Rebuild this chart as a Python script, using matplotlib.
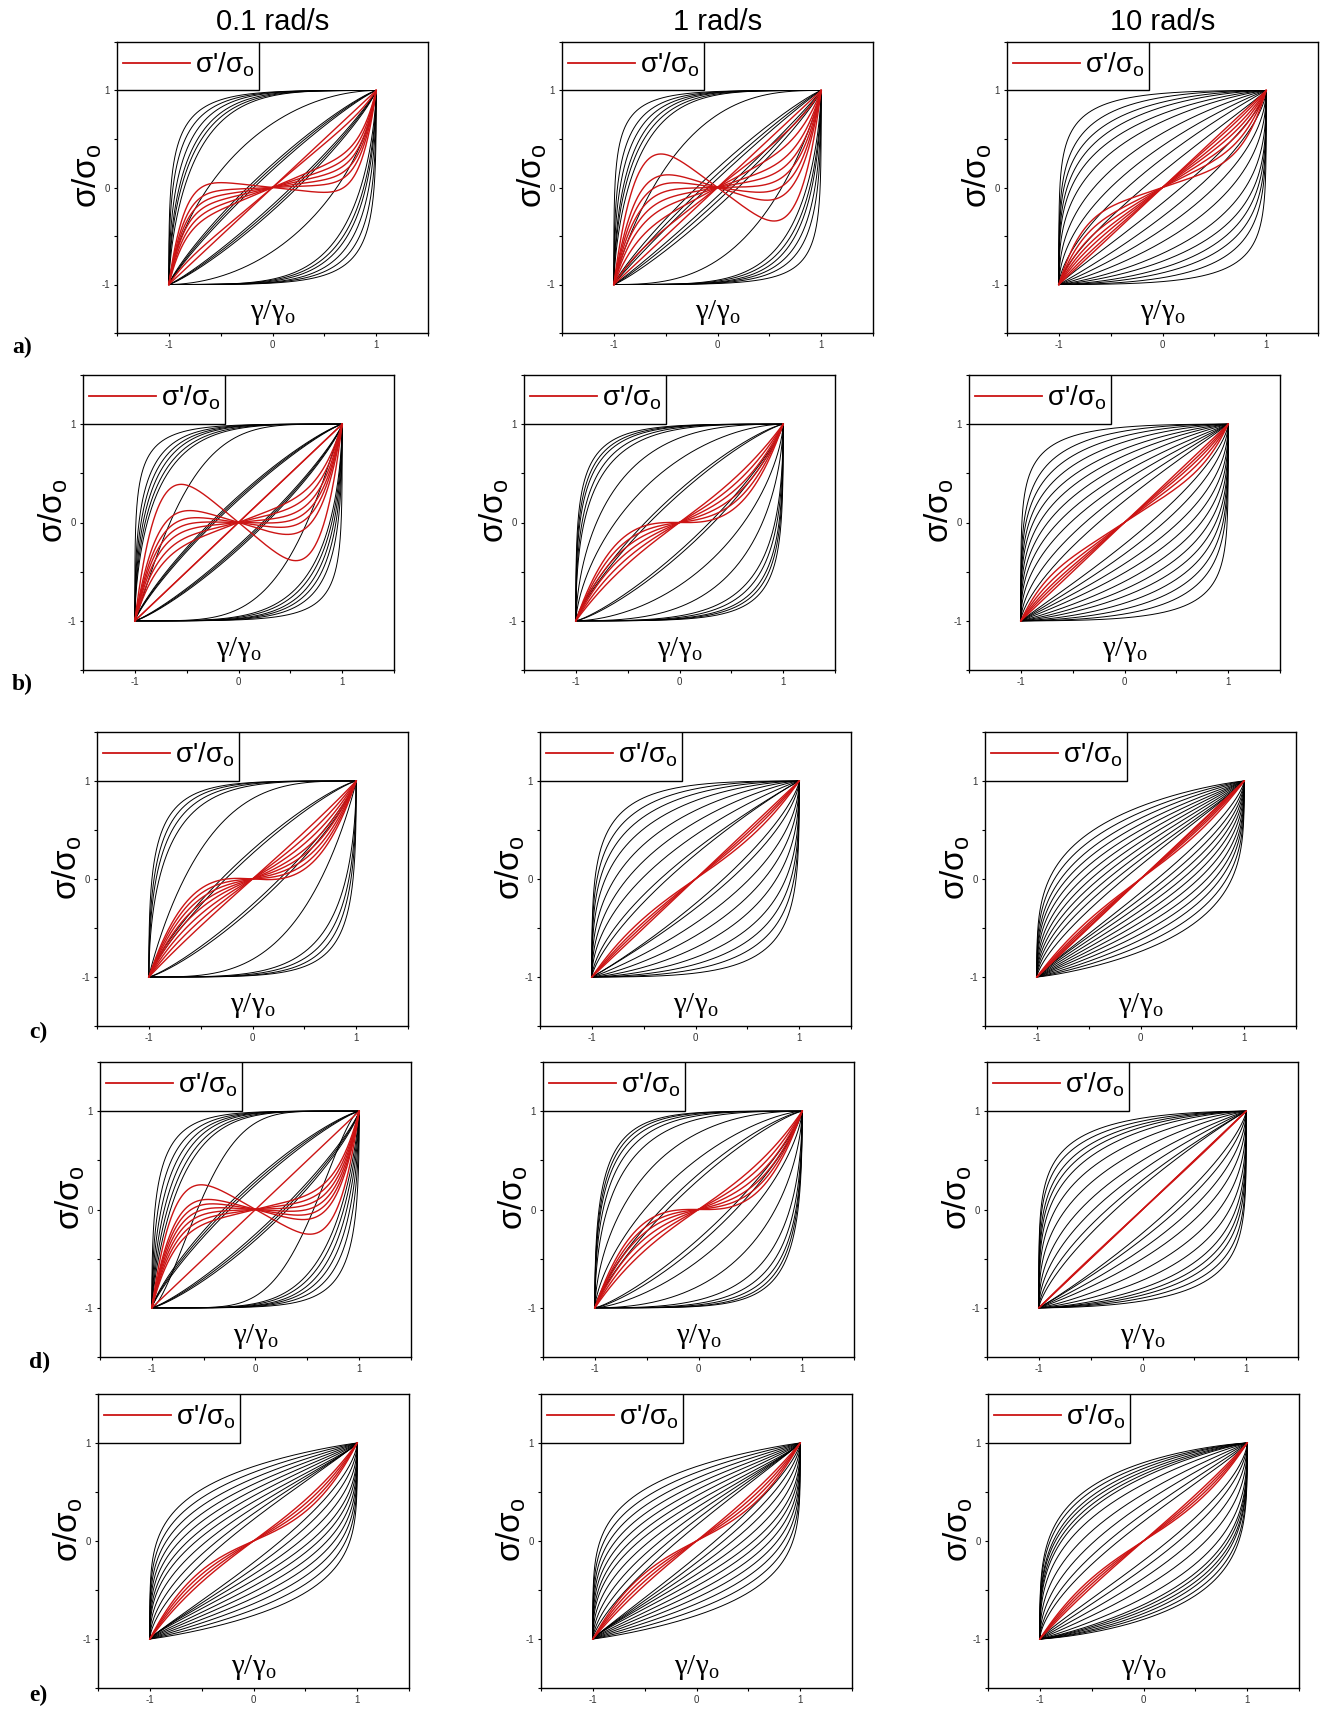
import numpy as np
import matplotlib
matplotlib.use('Agg')
import matplotlib.pyplot as plt
from matplotlib.patches import Rectangle
from matplotlib.lines import Line2D

plt.rcParams['font.family'] = ['Liberation Sans', 'DejaVu Sans']
plt.rcParams['axes.unicode_minus'] = False

rates = ['0.1 rad/s', '1 rad/s', '10 rad/s']
row_tags = ['a)', 'b)', 'c)', 'd)', 'e)']

# black loops (total stress), one entry per loop:
#   top  = sigma/sigma_o of the rising branch at gamma/gamma_o = 0
#   left = gamma/gamma_o where the rising branch crosses sigma = 0
top_a = [[0.985, 0.98, 0.975, 0.965, 0.955, 0.945, 0.66, 0.24, 0.21, 0.18],
         [0.99, 0.985, 0.98, 0.975, 0.965, 0.955, 0.75, 0.2, 0.14, 0.09],
         [0.97, 0.93, 0.88, 0.83, 0.76, 0.68, 0.56, 0.43, 0.3, 0.16]]
left_a = [[-0.98, -0.96, -0.93, -0.9, -0.88, -0.85, -0.62, -0.24, -0.21, -0.18],
          [-0.99, -0.965, -0.94, -0.91, -0.89, -0.86, -0.62, -0.2, -0.14, -0.09],
          [-0.99, -0.97, -0.95, -0.92, -0.88, -0.8, -0.66, -0.5, -0.34, -0.18]]

top_b = [[0.99, 0.985, 0.98, 0.975, 0.965, 0.955, 0.88, 0.27, 0.25, 0.23],
         [0.985, 0.98, 0.975, 0.965, 0.95, 0.86, 0.64, 0.33, 0.29],
         [0.97, 0.93, 0.88, 0.82, 0.75, 0.68, 0.6, 0.51, 0.42, 0.32, 0.22]]
left_b = [[-0.99, -0.96, -0.94, -0.92, -0.9, -0.88, -0.66, -0.27, -0.25, -0.23],
          [-0.98, -0.97, -0.96, -0.94, -0.92, -0.8, -0.62, -0.33, -0.29],
          [-0.99, -0.97, -0.95, -0.92, -0.88, -0.82, -0.74, -0.64, -0.52, -0.38, -0.25]]

top_c = [[0.985, 0.98, 0.97, 0.955, 0.82, 0.3, 0.26],
         [0.96, 0.92, 0.87, 0.8, 0.7, 0.58, 0.45, 0.3, 0.25],
         [0.74, 0.68, 0.62, 0.56, 0.5, 0.44, 0.38, 0.32, 0.26, 0.2, 0.14]]
left_c = [[-0.97, -0.95, -0.93, -0.9, -0.66, -0.3, -0.26],
          [-0.97, -0.95, -0.92, -0.87, -0.78, -0.66, -0.52, -0.34, -0.27],
          [-0.88, -0.83, -0.77, -0.71, -0.64, -0.56, -0.48, -0.4, -0.32, -0.24, -0.16]]

top_d = [[0.99, 0.985, 0.98, 0.975, 0.965, 0.955, 0.88, 0.31, 0.28, 0.25],
         [0.985, 0.98, 0.97, 0.955, 0.92, 0.78, 0.52, 0.36, 0.3],
         [0.93, 0.9, 0.87, 0.84, 0.8, 0.72, 0.62, 0.5, 0.4, 0.3, 0.24]]
left_d = [[-0.97, -0.94, -0.91, -0.88, -0.85, -0.82, -0.56, -0.31, -0.28, -0.25],
          [-0.96, -0.95, -0.94, -0.92, -0.88, -0.74, -0.52, -0.36, -0.3],
          [-0.98, -0.97, -0.95, -0.93, -0.9, -0.84, -0.74, -0.6, -0.47, -0.34, -0.26]]

top_e = [[0.76, 0.7, 0.64, 0.58, 0.52, 0.46, 0.4, 0.34, 0.28, 0.22],
         [0.76, 0.7, 0.64, 0.58, 0.52, 0.46, 0.4, 0.34, 0.28, 0.22, 0.16],
         [0.8, 0.77, 0.74, 0.71, 0.68, 0.65, 0.58, 0.48, 0.38, 0.28, 0.2]]
left_e = [[-0.93, -0.89, -0.84, -0.78, -0.71, -0.63, -0.55, -0.45, -0.35, -0.26],
          [-0.93, -0.89, -0.84, -0.78, -0.71, -0.63, -0.55, -0.45, -0.35, -0.26, -0.18],
          [-0.92, -0.9, -0.87, -0.85, -0.82, -0.79, -0.72, -0.6, -0.47, -0.34, -0.24]]

# red curves (elastic stress sigma'/sigma_o): value read at gamma/gamma_o = -0.5
red_a = [[0.05, -0.03, -0.08, -0.13, -0.18, -0.23, -0.45, -0.5],
         [0.34, 0.13, 0.04, -0.04, -0.12, -0.2, -0.3, -0.42, -0.5],
         [-0.2, -0.28, -0.34, -0.39, -0.43, -0.47, -0.5]]
red_b = [[0.38, 0.12, 0.04, -0.02, -0.08, -0.15, -0.22, -0.5, -0.5],
         [-0.12, -0.18, -0.24, -0.3, -0.36, -0.42],
         [-0.35, -0.4, -0.44, -0.47, -0.5]]
red_c = [[-0.1, -0.15, -0.2, -0.25, -0.3, -0.36, -0.42, -0.48],
         [-0.4, -0.44, -0.47, -0.5],
         [-0.42, -0.45, -0.47, -0.49, -0.5]]
red_d = [[0.25, 0.1, 0.05, 0.0, -0.05, -0.1, -0.15, -0.5],
         [-0.12, -0.17, -0.22, -0.28, -0.34, -0.4],
         [-0.5, -0.49, -0.5]]
red_e = [[-0.3, -0.34, -0.38, -0.42],
         [-0.33, -0.37, -0.41, -0.45],
         [-0.38, -0.41, -0.44, -0.47]]
# odd power of the nonlinear part of each red set
red_pow = [[7, 5, 5], [5, 3, 5], [3, 3, 3], [5, 3, 3], [3, 3, 3]]

tops = [top_a, top_b, top_c, top_d, top_e]
lefts = [left_a, left_b, left_c, left_d, left_e]
reds = [red_a, red_b, red_c, red_d, red_e]

# layout (pixels of the 1323x1709 canvas)
W, H = 1323, 1709
row_top = [42, 375, 732, 1062, 1394]
row_bot = [333, 670, 1026, 1357, 1688]
col_left = [[117, 562, 1007], [83, 524, 969], [97, 540, 985], [100, 543, 987], [98, 541, 988]]
ax_w = 311
tag_xy = [(22, 347), (22, 684), (38, 1032), (40, 1362), (38, 1695)]

RED = '#cc1414'


def branch(top, left):
    # rising branch from (-1,-1) to (1,1) through the two read points
    t = (1 + top) / 2
    u0 = (1 + left) / 2
    a = np.linspace(0.03, 3, 6000)
    b_top = np.log(1 - t) / np.log(1 - 0.5 ** a)
    b_left = np.log(0.5) / np.log(1 - u0 ** a)
    i = np.nanargmin(np.abs(b_top - b_left))
    a, b = a[i], b_top[i]
    u = np.linspace(0, 1, 900) ** 3
    g = 1 - (1 - u ** a) ** b
    return 2 * u - 1, 2 * g - 1


fig = plt.figure(figsize=(W / 100, H / 100), dpi=100)

for r in range(5):
    for c in range(3):
        L = col_left[r][c]
        ax = fig.add_axes([L / W, 1 - row_bot[r] / H, ax_w / W, (row_bot[r] - row_top[r]) / H])

        for top, left in zip(tops[r][c], lefts[r][c]):
            x, y = branch(top, left)
            ax.plot(np.concatenate([x, -x]), np.concatenate([y, -y]),
                    color='black', lw=0.7)

        m = red_pow[r][c]
        gam = np.linspace(-1, 1, 400)
        for v in reds[r][c]:
            k = (v + 0.5 ** m) / (0.5 ** m - 0.5)
            ax.plot(gam, k * gam + (1 - k) * gam ** m, color=RED, lw=1.0, zorder=3)

        ax.set_xlim(-1.5, 1.5)
        ax.set_ylim(-1.5, 1.5)
        ax.set_xticks([-1, 0, 1])
        ax.set_yticks([-1, 0, 1])
        ax.set_xticks([-1.5, -0.5, 0.5, 1.5], minor=True)
        ax.set_yticks([-1.5, -0.5, 0.5, 1.5], minor=True)
        ax.tick_params(which='both', direction='out', length=2.5, width=0.8,
                       labelsize=7, labelcolor='#333333', pad=2.5)
        for s in ax.spines.values():
            s.set_linewidth(1.0)

        # legend box in the upper-left corner
        ax.add_patch(Rectangle((0, 5 / 6), 0.455, 1 / 6, transform=ax.transAxes,
                               facecolor='white', edgecolor='black', lw=1.0, zorder=5))
        ax.add_line(Line2D([0.02, 0.235], [0.928, 0.928], transform=ax.transAxes,
                           color=RED, lw=1.3, zorder=6))
        ax.text(0.25, 0.922, "σ'/σ$_\\mathregular{o}$", transform=ax.transAxes,
                fontsize=20, ha='left', va='center', zorder=6)

        ax.text(-0.095, 0.54, "σ/σ$_\\mathregular{o}$", transform=ax.transAxes,
                fontsize=24, rotation=90, ha='center', va='center')
        ax.text(0, -1.29, "γ/γ$_\\mathregular{o}$", fontsize=21, ha='center', va='center',
                family=['Liberation Serif', 'DejaVu Serif'])

        if r == 0:
            fig.text((L + ax_w / 2) / W, 1 - 22 / H, rates[c], fontsize=21,
                     ha='center', va='center')

    tx, ty = tag_xy[r]
    fig.text(tx / W, 1 - ty / H, row_tags[r], fontsize=17, fontweight='bold',
             ha='center', va='center', family=['Liberation Serif', 'DejaVu Serif'])

fig.savefig('out.png', dpi=100, facecolor='white')
